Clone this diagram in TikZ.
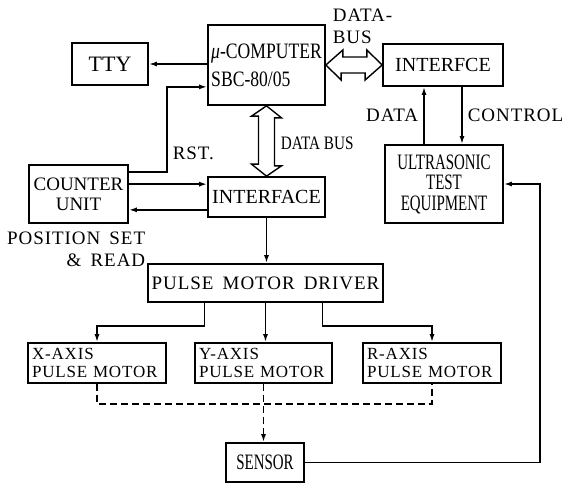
\documentclass[tikz,border=0pt]{standalone}
\usepackage{fontspec}
\setmainfont{Liberation Serif}
\newfontfamily\condfont[FakeStretch=0.68]{Liberation Serif}
\newfontfamily\semifont[FakeStretch=0.8]{Liberation Serif}
\newfontfamily\widefont[LetterSpace=5,WordSpace=1.6]{Liberation Serif}
\usetikzlibrary{arrows.meta,positioning,calc}
\newcommand{\fs}[2]{\fontsize{#1pt}{#2pt}\selectfont}

\begin{document}
\begin{tikzpicture}[x=1pt,y=-1pt,line width=1.7pt,
    blk/.style={draw,inner sep=0pt,align=center},
    conn/.style={-{Latex[length=8pt,width=5pt]}},
    bus/.style={line width=1.4pt,fill=white},
    lbl/.style={inner sep=0pt,font=\widefont\fs{19}{22}}]
  \useasboundingbox (0,0) rectangle (570,484);
  % blocks
  \node[blk,minimum width=76,minimum height=42,font=\fs{22}{24}] (tty) at (110,64) {TTY};
  \node[blk,minimum width=117,minimum height=80,align=left,font=\semifont\fs{22}{28}] (comp) at (266.5,65) {\textit{μ}-COMPUTER\\SBC-80/05};
  \node[blk,minimum width=120,minimum height=42,font=\fs{20}{22}] (ifce) at (443,65) {INTERFCE};
  \node[blk,minimum width=118,minimum height=78,font=\condfont\fs{22}{20.5}] (ultra) at (444,184) {ULTRASONIC\\TEST\\EQUIPMENT};
  \node[blk,minimum width=99,minimum height=58,font=\fs{19}{20}] (counter) at (78.5,194) {COUNTER\\UNIT};
  \node[blk,minimum width=117,minimum height=40,font=\fs{20}{22}] (iface) at (266.5,197) {INTERFACE};
  \node[blk,minimum width=235,minimum height=38,font=\widefont\fs{19}{22}] (driver) at (265.5,283) {PULSE MOTOR DRIVER};
  \node[blk,minimum width=138,minimum height=40,text width=130,align=left,font=\widefont\fs{17}{18}] (xax) at (97,363) {X-AXIS\\PULSE MOTOR};
  \node[blk,minimum width=137,minimum height=40,text width=129,align=left,font=\widefont\fs{17}{18}] (yax) at (263.5,363) {Y-AXIS\\PULSE MOTOR};
  \node[blk,minimum width=138,minimum height=40,text width=130,align=left,font=\widefont\fs{17}{18}] (rax) at (432,363) {R-AXIS\\PULSE MOTOR};
  \node[blk,minimum width=78,minimum height=39,font=\condfont\fs{22}{24}] (sensor) at (265,462.5) {SENSOR};

  % data buses
  \draw[bus] (comp.south) -- ++(15,12) -- ++(-7,0) -- ++(0,48) -- ++(7,0) -- (iface.north)
    -- ++(-15,-12) -- ++(7,0) -- ++(0,-48) -- ++(-7,0) -- cycle;
  \draw[bus] (comp.east) -- ++(17,-15) -- ++(0,7) -- ++(24,0) -- ++(0,-7) -- (ifce.west)
    -- ++(-17,15) -- ++(0,-7) -- ++(-24,0) -- ++(0,7) -- cycle;

  % connectors
  \draw[conn] (comp.west |- tty.east) -- (tty.east);
  \draw[conn] ([yshift=-8pt]counter.north east) -- ++(38,0) |- ([yshift=19pt]comp.south west);
  \coordinate (c1) at ($(iface.north west)+(0,8)$);
  \coordinate (c2) at ($(iface.south west)+(0,-8)$);
  \draw[conn] (counter.east |- c1) -- (c1);
  \draw[conn] (c2) -- (counter.east |- c2);
  \draw[conn] ([xshift=-20pt]ultra.north) -- ([xshift=-20pt]ultra.north |- ifce.south)
    node[lbl,midway,left=5pt] (datalbl) {DATA};
  \draw[conn] ([xshift=19pt]ifce.south) -- ([xshift=19pt]ifce.south |- ultra.north)
    node[lbl,midway,right=5pt] (ctrllbl) {CONTROL};
  \draw[conn] (iface.south) -- (iface.south |- driver.north);
  \draw[conn] ([xshift=-61pt]driver.south) -- ++(0,23) -| (xax.north);
  \draw[conn] (driver.south) -- (driver.south |- yax.north);
  \draw[conn] ([xshift=57pt]driver.south) -- ++(0,23) -| (rax.north);
  \draw[dashed,dash pattern=on 7pt off 4pt] (xax.south) -- ++(0,20) -| (rax.south);
  \draw[conn,dashed,dash pattern=on 7pt off 4pt] (yax.south) -- (yax.south |- sensor.north);
  \draw[conn] (sensor.east) -- ++(235,0) |- (ultra.east);

  % labels
  \node[lbl,anchor=west] (rstlbl) at (172,153) {RST.};
  \node[lbl,anchor=west,font=\semifont\fs{19}{22}] (buslbl) at (280,143) {DATA BUS};
  \node[lbl,anchor=west,align=left] (dbuslbl) at (332,26) {DATA-\\BUS};
  \node[lbl,anchor=east,align=right] (poslbl) at (146,249) {POSITION SET\\\& READ};
\end{tikzpicture}
\end{document}
